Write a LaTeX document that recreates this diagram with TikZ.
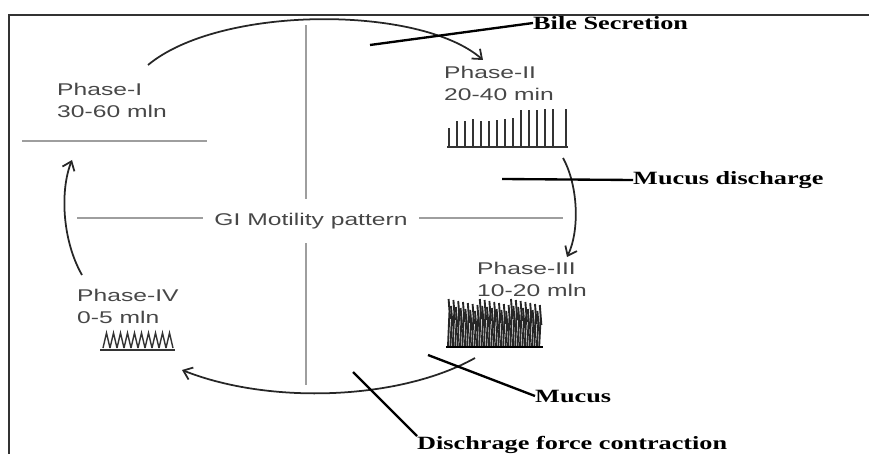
\documentclass[tikz,border=0pt]{standalone}
\usepackage{fontspec}
\newfontfamily\phasefont[FakeStretch=1.45]{Liberation Sans}
\newfontfamily\callfont[FakeStretch=1.4]{Liberation Serif}
\usetikzlibrary{arrows.meta,positioning,calc}
\definecolor{guide}{gray}{0.62}
\definecolor{phasegray}{gray}{0.28}
\tikzset{
  phase/.style={align=left,inner sep=0pt,text=phasegray,font=\phasefont\fontsize{14.5}{19}\selectfont},
  callout/.style={inner sep=0pt,font=\callfont\bfseries\fontsize{16}{18}\selectfont},
  cycle/.style={line width=1.5pt,black!85,-{Straight Barb[length=7pt,width=11pt]}},
  pointer/.style={line width=2pt},
  guideline/.style={guide,line width=1.6pt},
  spike/.style={line width=2pt,black!80}
}

\begin{document}
\begin{tikzpicture}[x=0.03cm,y=-0.03cm]
		\useasboundingbox (0,0) rectangle (869,454);
		% draw frame
		\draw[line width=1.7pt,black!80] (869,15) -- (9,15) -- (9,454);
		% draw phase labels
		\node[phase,anchor=north west] (ph1) at (57,83) {Phase-I\\30-60 mln};
		\node[phase,anchor=north west] (ph2) at (444,66) {Phase-II\\20-40 min};
		\node[phase,anchor=north west] (ph3) at (477,262) {Phase-III\\10-20 mln};
		\node[phase,anchor=north west] (ph4) at (77,289) {Phase-IV\\0-5 mln};
		% draw centre cross
		\node[phase,inner xsep=10pt,inner ysep=12pt] (gi) at (311,221) {GI Motility pattern};
		\coordinate (vtop) at (306,25);
		\coordinate (vbot) at (306,385);
		\coordinate (hleft) at (77,218);
		\coordinate (hright) at (563,218);
		\draw[guideline] (vtop) -- (gi.north -| vtop);
		\draw[guideline] (gi.south -| vbot) -- (vbot);
		\draw[guideline] (hleft) -- (hleft -| gi.west);
		\draw[guideline] (hright -| gi.east) -- (hright);
		\draw[guideline] (22,141) -- (207,141);
		% draw cycle arrows
		\coordinate (p1out) at (148,65);
		\coordinate (p2in) at (483,60);
		\coordinate (p2out) at (563,158);
		\coordinate (p3in) at (567,257);
		\coordinate (p3out) at (475,358);
		\coordinate (p4in) at (182,370);
		\coordinate (p4out) at (82,275);
		\coordinate (p1in) at (72,160);
		\draw[cycle] (p1out) .. controls (220,5) and (420,5) .. (p2in);
		\draw[cycle] (p2out) .. controls (578,185) and (580,230) .. (p3in);
		\draw[cycle] (p3out) .. controls (400,400) and (270,405) .. (p4in);
		\draw[cycle] (p4out) .. controls (62,240) and (60,190) .. (p1in);
		% draw callouts
		\node[callout,anchor=west] (bile) at (533,23) {Bile Secretion};
		\node[callout,anchor=west] (mdis) at (633,180) {Mucus discharge};
		\node[callout,anchor=west] (muc) at (535,396) {Mucus};
		\node[callout,anchor=north west] (dfc) at (417,436) {Dischrage force contraction};
		\coordinate (bilefoot) at (370,45);
		\coordinate (mdisfoot) at (502,179);
		\coordinate (mucfoot) at (428,355);
		\coordinate (dfcfoot) at (353,372);
		\draw[pointer] (bilefoot) -- (bile.west);
		\draw[pointer] (mdisfoot) -- (mdis.west);
		\draw[pointer] (mucfoot) -- (muc.west);
		\draw[pointer] (dfcfoot) -- (dfc.north west);
		% draw phase-II bars
		\foreach \x/\t in {449/128,457/121,465/121,473/119,481/121,489/121,497/120,505/119,513/118,521/110,529/110,537/110,545/109,553/109,566/109}
		\draw[spike] (\x,146) -- (\x,\t);
		\draw[line width=1.2pt,black!80] (447,147) -- (568,147);
		% draw phase-III burst
		\foreach \i in {0,...,38} {
		\pgfmathsetmacro\xx{448+2.4*\i}
		\pgfmathsetmacro\tt{299+mod(\i*7,13)}
		\draw[line width=1.6pt,black!85] (\xx,346) -- (\xx+1.5,\tt+12) -- (\xx+0.6,\tt) -- (\xx+2.2,\tt+20);
		}
		\draw[line width=1.4pt] (446,347) -- (543,347);
		% draw phase-IV ripple
		\foreach \x in {103,110,...,166}
		\draw[line width=1.2pt,black!80] (\x,348) -- (\x+3.5,333) -- (\x+7,348);
		\draw[line width=1.2pt,black!80] (100,350) -- (175,350);
\end{tikzpicture}
\end{document}
